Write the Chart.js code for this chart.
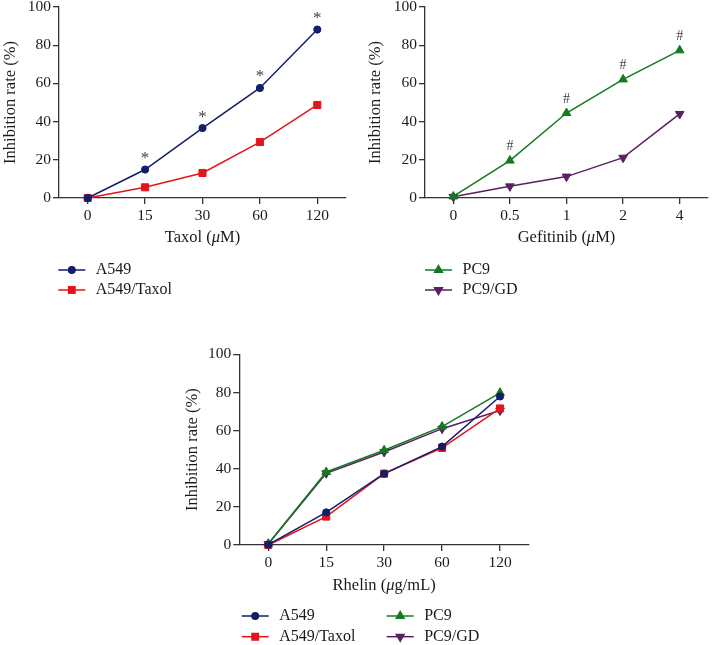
<!DOCTYPE html>
<html><head><meta charset="utf-8">
<script src="https://cdn.jsdelivr.net/npm/chart.js@4.4.1/dist/chart.umd.min.js"></script>
<style>
html,body{margin:0;padding:0;background:#fff;}
body{width:714px;height:645px;position:relative;overflow:hidden;}
canvas{position:absolute;display:block;}
</style></head><body>
<canvas id="c1" width="360" height="310" style="left:0;top:0;width:360px;height:310px"></canvas>
<canvas id="c2" width="354" height="310" style="left:360px;top:0;width:354px;height:310px"></canvas>
<canvas id="c3" width="360" height="335" style="left:180px;top:310px;width:360px;height:335px"></canvas>
<script>
// ---- data ----
const taxolDoses = ['0', '15', '30', '60', '120'];
const gefitinibDoses = ['0', '0.5', '1', '2', '4'];
const rhelinDoses = ['0', '15', '30', '60', '120'];
const yTickValues = [0, 20, 40, 60, 80, 100];

const taxolA549 = [0, 14.9, 36.6, 57.6, 88.2];
const taxolA549Taxol = [0, 5.6, 13.1, 29.3, 48.7];
const gefPC9 = [0.8, 19.6, 44.5, 62.1, 77.3];
const gefPC9GD = [0.6, 6.1, 11.2, 21.1, 44.0];
const rhelinA549 = [0.2, 17.1, 37.4, 51.6, 77.9];
const rhelinA549Taxol = [0, 14.9, 37.4, 50.9, 71.6];
const rhelinPC9 = [0.7, 38.3, 49.7, 62.1, 79.8];
const rhelinPC9GD = [0.5, 37.6, 48.8, 61.0, 70.5];

const taxolMarks = ['', '*', '*', '*', '*'];
const gefitinibMarks = ['', '#', '#', '#', '#'];

// ---- styles ----
const FAM = '"Liberation Serif", "Times New Roman", serif';
const AXIS = '#333333';
const TEXT = '#1a1a1a';
const NAVY = '#121d6b';
const RED = '#e3141c';
const GREEN = '#127a1f';
const PURPLE = '#5b1f62';

function ds(label, data, color, style, radius, rotation) {
  return {
    label, data, borderColor: color, backgroundColor: color,
    pointBackgroundColor: color, pointBorderColor: color,
    borderWidth: 1.5, pointStyle: style, pointRadius: radius,
    pointRotation: rotation || 0, pointBorderWidth: 1, tension: 0, clip: false
  };
}

const extras = {
  id: 'extras',
  afterDatasetsDraw(chart, args, o) {
    const ctx = chart.ctx;
    if (o.marks) {
      const meta = chart.getDatasetMeta(0);
      ctx.save();
      ctx.fillStyle = '#444';
      ctx.font = o.markFont;
      ctx.textAlign = 'center';
      ctx.textBaseline = 'middle';
      o.marks.forEach((m, i) => {
        if (!m) return;
        const p = meta.data[i];
        ctx.fillText(m, p.x, p.y - o.markOffset);
      });
      ctx.restore();
    }
  },
  afterDraw(chart, args, o) {
    const ctx = chart.ctx;
    const ca = chart.chartArea;
    if (o.xTitle) {
      ctx.save();
      ctx.fillStyle = TEXT;
      ctx.textBaseline = 'middle';
      ctx.textAlign = 'left';
      let total = 0;
      const widths = o.xTitle.map(([t, it]) => {
        ctx.font = (it ? 'italic ' : '') + '16.5px ' + FAM;
        const w = ctx.measureText(t).width; total += w; return w;
      });
      let x = (ca.left + ca.right) / 2 - total / 2;
      const y = ca.bottom + o.xTitleDy;
      o.xTitle.forEach(([t, it], i) => {
        ctx.font = (it ? 'italic ' : '') + '16.5px ' + FAM;
        ctx.fillText(t, x, y);
        x += widths[i];
      });
      ctx.restore();
    }
    if (o.legend) {
      o.legend.forEach(item => {
        const d = chart.data.datasets[item.ds];
        ctx.save();
        ctx.strokeStyle = d.borderColor;
        ctx.fillStyle = d.borderColor;
        ctx.lineWidth = 1.5;
        ctx.beginPath();
        ctx.moveTo(item.x, item.y);
        ctx.lineTo(item.x + 27, item.y);
        ctx.stroke();
        Chart.helpers.drawPoint(ctx, {
          pointStyle: d.pointStyle, rotation: d.pointRotation,
          radius: d.pointRadius * 0.9, borderWidth: 1
        }, item.x + 13.5, item.y);
        ctx.fillStyle = TEXT;
        ctx.font = '16px ' + FAM;
        ctx.textBaseline = 'middle';
        ctx.textAlign = 'left';
        ctx.fillText(d.label, item.x + 37.5, item.y);
        ctx.restore();
      });
    }
  }
};

function scales(yWidth, xHeight, yTitlePad) {
  const gridCommon = { display: true, drawOnChartArea: false, drawTicks: true, tickLength: 6, color: AXIS, lineWidth: 1.3 };
  return {
    x: {
      type: 'category', offset: true,
      grid: Object.assign({}, gridCommon, { offset: false }),
      border: { display: true, color: AXIS, width: 1.3 },
      ticks: { color: TEXT, font: { family: FAM, size: 15.5 }, padding: 3, maxRotation: 0, autoSkip: false },
      afterFit(s) { s.height = xHeight; s.paddingLeft = 0; s.paddingRight = 0; }
    },
    y: {
      min: 0, max: 100,
      grid: gridCommon,
      border: { display: true, color: AXIS, width: 1.3 },
      ticks: { color: TEXT, font: { family: FAM, size: 15.5 }, padding: 2 },
      afterBuildTicks(s) { s.ticks = yTickValues.map(v => ({ value: v })); },
      title: { display: true, text: 'Inhibition rate (%)', color: TEXT, font: { family: FAM, size: 16.5 }, padding: { top: yTitlePad, bottom: 0 } },
      afterFit(s) { s.width = yWidth; s.paddingTop = 0; s.paddingBottom = 0; }
    }
  };
}

function make(id, labels, datasets, cfg) {
  new Chart(document.getElementById(id), {
    type: 'line',
    data: { labels, datasets },
    options: {
      responsive: false, animation: false, devicePixelRatio: 1,
      layout: { padding: cfg.padding },
      plugins: { legend: { display: false }, tooltip: { enabled: false }, extras: cfg.extras },
      scales: scales(cfg.yWidth, 50, cfg.yTitlePad)
    },
    plugins: [extras]
  });
}

make('c1', taxolDoses, [
  ds('A549', taxolA549, NAVY, 'circle', 3.6),
  ds('A549/Taxol', taxolA549Taxol, RED, 'rect', 5)
], {
  padding: { top: 7, right: 14, bottom: 62, left: 0 }, yWidth: 59, yTitlePad: 0.5,
  extras: {
    marks: taxolMarks, markFont: '17px ' + FAM, markOffset: 11,
    xTitle: [['Taxol (', false], ['\u03bc', true], ['M)', false]], xTitleDy: 40,
    legend: [{ ds: 0, x: 58.3, y: 270 }, { ds: 1, x: 58.3, y: 290 }]
  }
});

make('c2', gefitinibDoses, [
  ds('PC9', gefPC9, GREEN, 'triangle', 5),
  ds('PC9/GD', gefPC9GD, PURPLE, 'triangle', 5, 180)
], {
  padding: { top: 7, right: 1.7, bottom: 62, left: 0 }, yWidth: 65, yTitlePad: 5.5,
  extras: {
    marks: gefitinibMarks, markFont: '14px ' + FAM, markOffset: 14,
    xTitle: [['Gefitinib (', false], ['\u03bc', true], ['M)', false]], xTitleDy: 40,
    legend: [{ ds: 0, x: 65, y: 270 }, { ds: 1, x: 65, y: 290 }]
  }
});

make('c3', rhelinDoses, [
  ds('A549', rhelinA549, NAVY, 'circle', 3.6),
  ds('A549/Taxol', rhelinA549Taxol, RED, 'rect', 5),
  ds('PC9', rhelinPC9, GREEN, 'triangle', 5),
  ds('PC9/GD', rhelinPC9GD, PURPLE, 'triangle', 5, 180)
], {
  padding: { top: 44.3, right: 11, bottom: 50, left: 0 }, yWidth: 59.3, yTitlePad: 2.8,
  extras: {
    xTitle: [['Rhelin (', false], ['\u03bc', true], ['g/mL)', false]], xTitleDy: 41,
    legend: [{ ds: 0, x: 61.7, y: 306 }, { ds: 1, x: 61.7, y: 326.7 }, { ds: 2, x: 206.7, y: 306 }, { ds: 3, x: 206.7, y: 326.7 }]
  }
});
</script>
</body></html>
